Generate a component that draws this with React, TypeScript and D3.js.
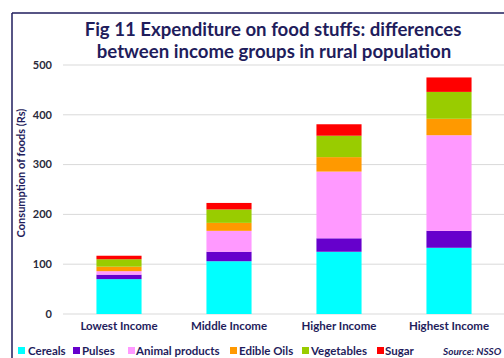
import React from "react";
import * as d3 from "d3";

const categories = ["Lowest Income", "Middle Income", "Higher Income", "Highest Income"];
const seriesNames = ["Cereals", "Pulses", "Animal products", "Edible Oils", "Vegetables", "Sugar"];
const cereals = [70, 106, 125, 133];
const pulses = [9, 19, 27, 34];
const animalProducts = [7, 42, 134, 192];
const edibleOils = [9, 16, 29, 33];
const vegetables = [15, 27, 43, 54];
const sugar = [7, 13, 23, 29];
const yTicks = [0, 100, 200, 300, 400, 500];
const colors = ["#00FFFF", "#6600CC", "#FF99FF", "#FF9900", "#99CC00", "#FF0000"];

const W = 504, H = 358;
const NAVY = "#1F1D5C";
const FONT = "Lato, 'Open Sans', sans-serif";

export default function App() {
  const seriesVals = [cereals, pulses, animalProducts, edibleOils, vegetables, sugar];
  const rows = categories.map((c, i) => {
    const r: any = { cat: c };
    seriesNames.forEach((s, j) => (r[s] = seriesVals[j][i]));
    return r;
  });
  const stack = d3.stack<any>().keys(seriesNames)(rows);
  const x = d3.scaleBand().domain(categories).range([64, 504]).paddingInner(0.59).paddingOuter(0.295);
  const y = d3.scaleLinear().domain([0, 500]).range([314, 65]);

  const legendItems = [
    { name: "Cereals", sx: 18, tx: 28 },
    { name: "Pulses", sx: 73, tx: 82 },
    { name: "Animal products", sx: 128, tx: 136 },
    { name: "Edible Oils", sx: 230, tx: 239 },
    { name: "Vegetables", sx: 302, tx: 311 },
    { name: "Sugar", sx: 377, tx: 385 },
  ];

  return (
    <svg width={W} height={H} style={{ position: "absolute", left: 0, top: 0, background: "#fff" }} fontFamily={FONT}>
      <rect x={0} y={0} width={W} height={H} fill="#fff" />
      <line x1={12} y1={13} x2={W} y2={13} stroke={NAVY} strokeWidth={1.5} />
      <line x1={12} y1={13} x2={12} y2={H} stroke={NAVY} strokeWidth={1.5} />
      <text x={273} y={36} textAnchor="middle" fontSize={18.6} fontWeight={700} fill={NAVY}>
        Fig 11 Expenditure on food stuffs: differences
      </text>
      <text x={274} y={58} textAnchor="middle" fontSize={18.6} fontWeight={700} fill={NAVY}>
        between income groups in rural population
      </text>
      {yTicks.map((t) => (
        <g key={t}>
          <line x1={63} x2={504} y1={y(t)} y2={y(t)} stroke="#D9D9D9" strokeWidth={1} />
          <text x={52} y={y(t)} dy="0.35em" textAnchor="end" fontSize={11} fontWeight={700} fill="#2a2a3a">
            {t}
          </text>
        </g>
      ))}
      <text
        transform={`translate(25,173) rotate(-90)`}
        textAnchor="middle"
        fontSize={11}
        fontWeight={700}
        fill={NAVY}
      >
        Consumption of foods (Rs)
      </text>
      {stack.map((s, si) => (
        <g key={s.key} fill={colors[si]}>
          {s.map((d, i) => (
            <rect
              key={i}
              x={x(categories[i])}
              width={x.bandwidth()}
              y={y(d[1])}
              height={y(d[0]) - y(d[1])}
            />
          ))}
        </g>
      ))}
      {categories.map((c) => (
        <text key={c} x={(x(c) as number) + x.bandwidth() / 2} y={326} dy="0.35em" textAnchor="middle" fontSize={11.5} fontWeight={700} fill={NAVY}>
          {c}
        </text>
      ))}
      {legendItems.map((l, i) => (
        <g key={l.name}>
          <rect x={l.sx} y={347} width={7} height={7} fill={colors[i]} />
          <text x={l.tx} y={351} dy="0.35em" fontSize={11.5} fontWeight={700} fill={NAVY}>
            {l.name}
          </text>
        </g>
      ))}
      <text x={443} y={355} fontSize={10} fontStyle="italic" fontWeight={700} fill={NAVY}>
        Source: NSSO
      </text>
    </svg>
  );
}
